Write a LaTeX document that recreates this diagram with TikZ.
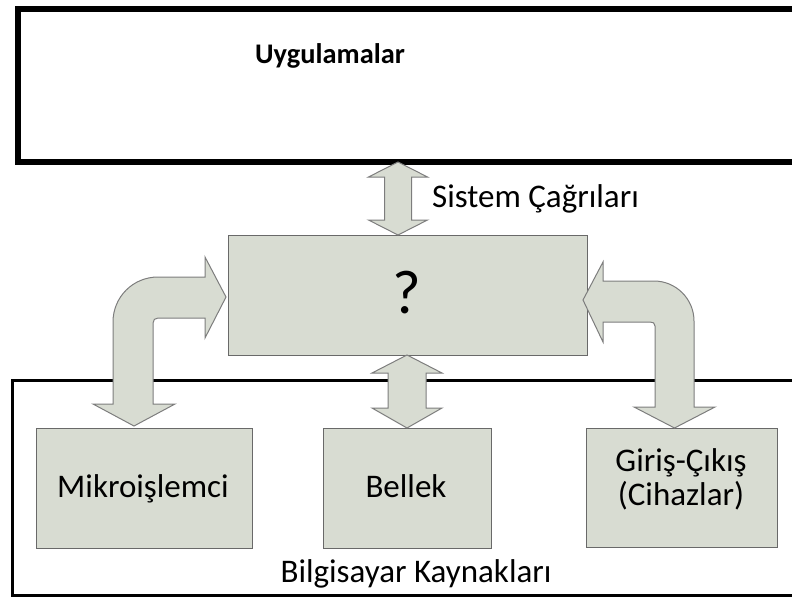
\documentclass[tikz,border=0pt]{standalone}
\usepackage{fontspec}
\setmainfont{Carlito}
\usetikzlibrary{calc}
\definecolor{boxfill}{RGB}{216,220,210}
\definecolor{boxline}{RGB}{105,105,105}
\definecolor{arrline}{RGB}{125,125,125}
\begin{document}
\begin{tikzpicture}[x=1pt,y=-1pt,
  outerbox/.style={draw=black,fill=none,inner sep=0pt,anchor=north west},
  box/.style={draw=boxline,fill=boxfill,line width=1.2pt,inner sep=0pt,anchor=north west},
  lbl/.style={font=\fontsize{33}{33}\selectfont,inner sep=0pt},
  blockarrow/.style={draw=arrline,fill=boxfill,line width=1pt,line join=miter}]
\useasboundingbox (0,0) rectangle (792,597);
\clip (0,0) rectangle (792,597);
% frames
\node[outerbox, line width=6pt, minimum width=785pt, minimum height=153pt] (apps) at (15,6) {};
\node[outerbox, line width=3pt, minimum width=790pt, minimum height=215pt] (res) at (11,379) {};
% boxes
\node[box, minimum width=359pt, minimum height=120pt] (kernel) at (228,235) {};
\node[box, minimum width=216pt, minimum height=120pt] (cpu) at (36,428) {};
\node[box, minimum width=168pt, minimum height=120pt] (mem) at (323,428) {};
\node[box, minimum width=191pt, minimum height=119pt] (io) at (586,428) {};
% arrows
\draw[blockarrow] (398,162) -- (427.5,177) -- (411.5,177) -- (411.5,220) -- (427.5,220) -- (398,235)
  -- (368.5,220) -- (384.5,220) -- (384.5,177) -- (368.5,177) -- cycle;
\draw[blockarrow] (407,355) -- (442,373) -- (426,373) -- (426,408) -- (442,408) -- (407,428)
  -- (372,408) -- (388,408) -- (388,373) -- (372,373) -- cycle;
\draw[blockarrow] (226,297) -- (205,257) -- (205,277) -- (158,277)
  .. controls (133,277) and (113,297) .. (113,322) -- (113,404) -- (93,404) -- (134,426)
  -- (175,404) -- (153,404) -- (153,323) .. controls (153,320) and (155,318) .. (158,318)
  -- (205,318) -- (205,338) -- cycle;
\draw[blockarrow] (583,300) -- (603,262) -- (603,281) -- (654,281)
  .. controls (676,281) and (694,299) .. (694,321) -- (694,407) -- (715,407) -- (674.5,428)
  -- (634,407) -- (655,407) -- (655,326) .. controls (655,323) and (653,322) .. (650,322)
  -- (603,322) -- (603,342) -- cycle;
% texts
\node[font=\bfseries\fontsize{28.4}{30}\selectfont, inner sep=0pt, anchor=base west] (appslbl) at (255,63) {Uygulamalar};
\node[lbl, anchor=base west] (sclbl) at (432,207) {Sistem Çağrıları};
\node[font=\fontsize{62}{62}\selectfont, inner sep=0pt, anchor=base] (qlbl) at (407,313) {?};
\node[lbl, anchor=base] (cpulbl) at (143,497) {Mikroişlemci};
\node[lbl, anchor=base] (memlbl) at (406,497) {Bellek};
\node[lbl, anchor=base] (iolbl) at (681,471) {\begin{tabular}[t]{@{}c@{}}Giriş-Çıkış\\(Cihazlar)\end{tabular}};
\node[lbl, anchor=base] (reslbl) at (416,582) {Bilgisayar Kaynakları};
\end{tikzpicture}
\end{document}
